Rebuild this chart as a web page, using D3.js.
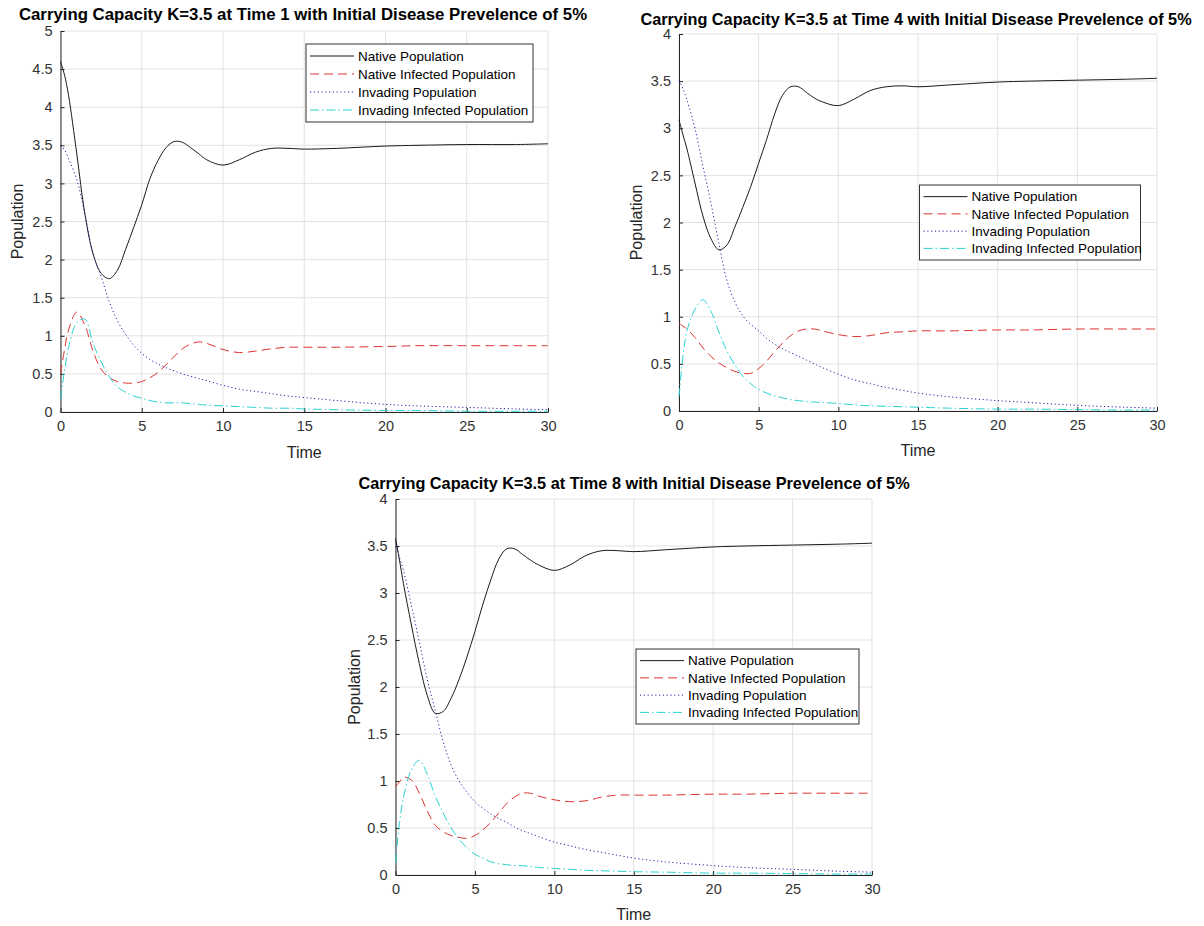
<!DOCTYPE html>
<html><head><meta charset="utf-8">
<script src="https://cdn.jsdelivr.net/npm/d3@7"></script>
<style>body{margin:0;background:#fff} text{font-family:"Liberation Sans",Arial,sans-serif}</style>
</head><body><svg id="c" width="1204" height="926"></svg>
<script>
// ---------- data ----------
const time = [0,0.25,0.5,1,1.5,2,2.5,3,3.5,4,4.5,5,5.5,6,6.5,7,7.5,8,8.5,9,10,11,12,13,14,15,17,20,22,25,28,30];
const timeTicks = [0,5,10,15,20,25,30];
const popTicksA = [0,0.5,1,1.5,2,2.5,3,3.5,4,4.5,5];
const popTicksB = [0,0.5,1,1.5,2,2.5,3,3.5,4];
const seriesNames = ["Native Population","Native Infected Population","Invading Population","Invading Infected Population"];
const titles = [
  "Carrying Capacity K=3.5 at Time 1 with Initial Disease Prevelence of 5%",
  "Carrying Capacity K=3.5 at Time 4 with Initial Disease Prevelence of 5%",
  "Carrying Capacity K=3.5 at Time 8 with Initial Disease Prevelence of 5%"
];
// Time 1
const native1   = [4.6,4.42,4.15,3.39,2.6,2.08,1.82,1.75,1.86,2.13,2.42,2.72,3.06,3.30,3.47,3.55,3.54,3.47,3.39,3.31,3.24,3.31,3.41,3.46,3.46,3.45,3.46,3.49,3.50,3.51,3.51,3.52];
const nativeInf1= [0.5,0.82,1.08,1.31,1.14,0.8,0.56,0.45,0.40,0.38,0.38,0.4,0.45,0.52,0.62,0.73,0.83,0.89,0.92,0.9,0.82,0.78,0.8,0.83,0.85,0.85,0.85,0.86,0.87,0.87,0.87,0.87];
const invade1   = [3.5,3.44,3.32,3.05,2.6,2.08,1.78,1.45,1.2,1.02,0.88,0.77,0.69,0.63,0.58,0.54,0.5,0.47,0.44,0.41,0.35,0.3,0.27,0.24,0.21,0.19,0.15,0.1,0.08,0.06,0.04,0.03];
const invadeInf1= [0.17,0.55,0.85,1.17,1.22,0.9,0.66,0.46,0.33,0.26,0.21,0.18,0.15,0.13,0.12,0.12,0.12,0.11,0.1,0.09,0.08,0.07,0.06,0.05,0.05,0.04,0.03,0.02,0.02,0.01,0.01,0.01];
// Time 4
const native4   = [3.09,2.93,2.78,2.42,2.07,1.83,1.71,1.76,1.95,2.16,2.38,2.63,2.88,3.15,3.35,3.44,3.44,3.38,3.32,3.28,3.24,3.31,3.40,3.44,3.45,3.44,3.46,3.49,3.50,3.51,3.52,3.53];
const nativeInf4= [0.93,0.9,0.87,0.78,0.67,0.58,0.51,0.46,0.42,0.40,0.40,0.45,0.53,0.63,0.72,0.80,0.85,0.87,0.87,0.85,0.81,0.79,0.80,0.83,0.84,0.85,0.85,0.86,0.86,0.87,0.87,0.87];
const invade4   = [3.51,3.42,3.3,3.0,2.6,2.21,1.78,1.39,1.16,1.01,0.92,0.85,0.77,0.71,0.66,0.62,0.58,0.54,0.5,0.46,0.39,0.33,0.29,0.25,0.22,0.19,0.15,0.11,0.09,0.06,0.04,0.03];
const invadeInf4= [0.15,0.58,0.85,1.08,1.18,1.06,0.84,0.64,0.49,0.37,0.29,0.23,0.19,0.16,0.14,0.12,0.11,0.1,0.095,0.09,0.08,0.065,0.055,0.05,0.045,0.04,0.03,0.02,0.02,0.015,0.01,0.01];
// Time 8
const native8   = [3.58,3.35,3.1,2.66,2.25,1.91,1.72,1.74,1.88,2.08,2.32,2.59,2.88,3.14,3.36,3.47,3.47,3.41,3.35,3.30,3.24,3.30,3.40,3.45,3.45,3.44,3.46,3.49,3.50,3.51,3.52,3.53];
const nativeInf8= [0.94,0.99,1.04,1.01,0.87,0.68,0.53,0.46,0.42,0.40,0.39,0.42,0.48,0.56,0.66,0.76,0.83,0.87,0.87,0.84,0.80,0.78,0.79,0.83,0.85,0.85,0.85,0.86,0.86,0.87,0.87,0.87];
const invade8   = [3.53,3.38,3.24,2.87,2.48,2.08,1.75,1.42,1.17,1.0,0.88,0.78,0.71,0.65,0.6,0.56,0.51,0.47,0.44,0.41,0.35,0.31,0.27,0.24,0.21,0.18,0.14,0.1,0.08,0.06,0.04,0.03];
const invadeInf8= [0.13,0.55,0.82,1.12,1.22,1.07,0.84,0.66,0.5,0.38,0.29,0.22,0.18,0.14,0.12,0.11,0.1,0.1,0.09,0.08,0.07,0.06,0.05,0.045,0.04,0.035,0.03,0.02,0.02,0.015,0.01,0.01];

// ---------- styles / layout ----------
const styles = [
  {color:"#1a1a1a", dash:null},
  {color:"#dd3333", dash:"9,5"},
  {color:"#2222b0", dash:"1.2,2.6"},
  {color:"#2ad2d2", dash:"9,3,1.5,3"}
];
const panels = [
  {series:[native1,nativeInf1,invade1,invadeInf1], yMax:5, yTicks:popTicksA, title:titles[0],
   L:60.5,R:548,T:31,B:412, titleX:303, titleY:20, titleSize:16.8, timeY:458, popX:23, leg:{x:306,y:44,w:227,h:78}},
  {series:[native4,nativeInf4,invade4,invadeInf4], yMax:4, yTicks:popTicksB, title:titles[1],
   L:679,R:1157,T:34,B:411, titleX:916, titleY:24.5, titleSize:16.3, timeY:456, popX:642, leg:{x:919.5,y:185,w:221,h:75}},
  {series:[native8,nativeInf8,invade8,invadeInf8], yMax:4, yTicks:popTicksB, title:titles[2],
   L:395.5,R:872,T:499,B:875, titleX:634, titleY:488.5, titleSize:16.3, timeY:920, popX:360, leg:{x:636,y:649,w:223,h:75}}
];

const svg = d3.select("#c");
const axisColor = "#262626";

panels.forEach(p => {
  const x = d3.scaleLinear().domain([0,30]).range([p.L,p.R]);
  const y = d3.scaleLinear().domain([0,p.yMax]).range([p.B,p.T]);
  const g = svg.append("g");

  // grid
  g.append("g").selectAll("line").data(timeTicks).join("line")
    .attr("x1",d=>x(d)).attr("x2",d=>x(d)).attr("y1",p.T).attr("y2",p.B)
    .attr("stroke","#e2e2e2").attr("stroke-width",1);
  g.append("g").selectAll("line").data(p.yTicks).join("line")
    .attr("x1",p.L).attr("x2",p.R).attr("y1",d=>y(d)).attr("y2",d=>y(d))
    .attr("stroke","#e2e2e2").attr("stroke-width",1);

  // axes
  const xAxis = d3.axisBottom(x).tickValues(timeTicks).tickSizeInner(-4).tickSizeOuter(0).tickPadding(9).tickFormat(d3.format("d"));
  const yAxis = d3.axisLeft(y).tickValues(p.yTicks).tickSizeInner(-4).tickSizeOuter(0).tickPadding(8).tickFormat(d=>String(d));
  const gx = g.append("g").attr("transform",`translate(0,${p.B})`).call(xAxis);
  const gy = g.append("g").attr("transform",`translate(${p.L},0)`).call(yAxis);
  [gx,gy].forEach(a=>{
    a.select(".domain").attr("stroke",axisColor);
    a.selectAll(".tick line").attr("stroke",axisColor);
    a.selectAll(".tick text").attr("fill","#333").style("font-size","14.5px").style("font-family","'Liberation Sans',Arial,sans-serif");
  });

  // lines
  const line = d3.line().x((d,i)=>x(time[i])).y(d=>y(d)).curve(d3.curveCatmullRom.alpha(0.5));
  p.series.forEach((s,k)=>{
    g.append("path").datum(s).attr("d",line).attr("fill","none")
      .attr("stroke",styles[k].color).attr("stroke-width",1)
      .attr("stroke-dasharray",styles[k].dash);
  });

  // labels
  g.append("text").attr("x",p.titleX).attr("y",p.titleY).attr("text-anchor","middle")
    .style("font-size",p.titleSize+"px").style("font-weight","bold").attr("fill","#000").text(p.title);
  g.append("text").attr("x",(p.L+p.R)/2).attr("y",p.timeY).attr("text-anchor","middle")
    .style("font-size","16px").attr("fill",axisColor).text("Time");
  g.append("text").attr("transform",`translate(${p.popX},${(p.T+p.B)/2}) rotate(-90)`).attr("text-anchor","middle")
    .style("font-size","16px").attr("fill",axisColor).text("Population");

  // legend
  const lg = g.append("g").attr("transform",`translate(${p.leg.x},${p.leg.y})`);
  lg.append("rect").attr("width",p.leg.w).attr("height",p.leg.h).attr("fill","#fff")
    .attr("stroke","#333").attr("stroke-width",1);
  const rowH = (p.leg.h-6)/4;
  seriesNames.forEach((n,k)=>{
    const cy = 3 + rowH*(k+0.5);
    lg.append("line").attr("x1",4).attr("x2",48).attr("y1",cy).attr("y2",cy)
      .attr("stroke",styles[k].color).attr("stroke-width",1).attr("stroke-dasharray",styles[k].dash);
    lg.append("text").attr("x",52).attr("y",cy+4.8).style("font-size","13.5px").attr("fill","#000").text(n);
  });
});
</script>
</body></html>
